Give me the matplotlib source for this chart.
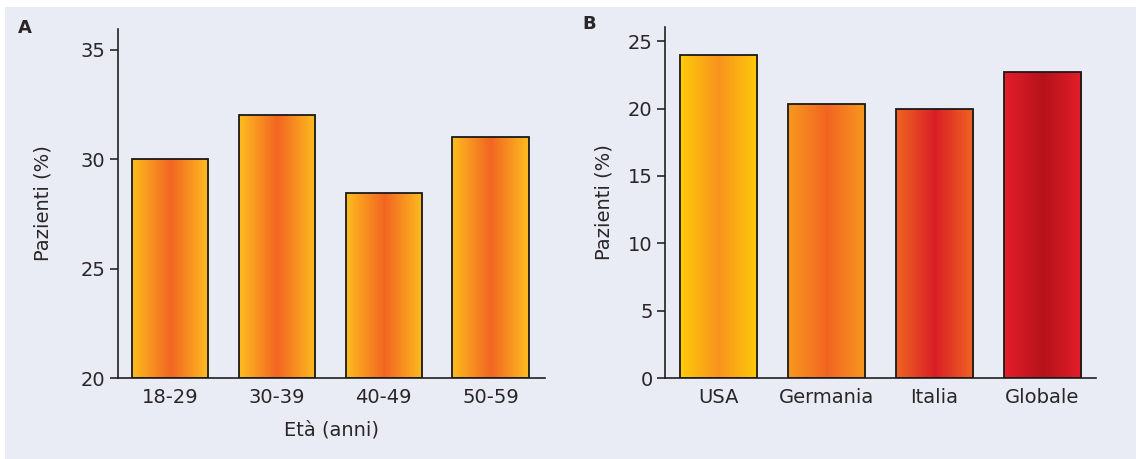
import numpy as np
import matplotlib
matplotlib.use("Agg")
import matplotlib.pyplot as plt
from matplotlib.colors import to_rgb
from matplotlib.patches import Rectangle

# Data
age_groups = ["18-29", "30-39", "40-49", "50-59"]
age_values = [30.0, 32.0, 28.45, 31.0]
countries = ["USA", "Germania", "Italia", "Globale"]
country_values = [24.0, 20.3, 20.0, 22.7]

# gradient colours (edge, centre) per bar
age_grad = [("#FDBD1F", "#F26522")] * 4
country_grad = [("#FFCB08", "#F7931E"), ("#F7981F", "#F26522"),
                ("#F06523", "#D91F26"), ("#E41E2A", "#B5121B")]

BG = "#E9ECF4"
TEXT = "#2a2627"
FS = 14

plt.rcParams['font.family'] = ['DejaVu Sans']

fig = plt.figure(figsize=(11.36, 4.59), dpi=100, facecolor="white")
W, H = 1136, 459
fig.patches.append(Rectangle((5 / W, 0), 1 - 5 / W, 1 - 7 / H, transform=fig.transFigure,
                             facecolor=BG, edgecolor="none", zorder=-10))


def px_axes(left, right, top, bottom):
    return fig.add_axes([left / W, 1 - bottom / H, (right - left) / W, (bottom - top) / H])


def gradient_bars(ax, values, grads, bottom_val):
    bars = ax.bar(range(len(values)), [v - bottom_val for v in values], bottom=bottom_val,
                  width=0.715, facecolor="none", edgecolor="#1a1a1a", linewidth=1.3, zorder=3)
    xs = np.linspace(0, 1, 256)
    prof = 1 - np.abs(xs - 0.5) * 2  # 0 at edges, 1 at centre
    for b, (ec, cc) in zip(bars, grads):
        e = np.array(to_rgb(ec)); c = np.array(to_rgb(cc))
        img = e[None, :] * (1 - prof[:, None]) + c[None, :] * prof[:, None]
        img = img[None, :, :]
        x0, y0 = b.get_x(), b.get_y()
        im = ax.imshow(img, extent=[x0, x0 + b.get_width(), y0, y0 + b.get_height()],
                       aspect="auto", zorder=2, interpolation="bilinear")
        im.set_clip_path(b)
    return bars


def style(ax):
    ax.set_facecolor("none")
    for s in ["top", "right"]:
        ax.spines[s].set_visible(False)
    for s in ["left", "bottom"]:
        ax.spines[s].set_color("#231F20")
        ax.spines[s].set_linewidth(1.2)
    ax.tick_params(axis="both", colors=TEXT, labelsize=FS, length=6, width=1.2)
    ax.tick_params(axis="x", length=0, pad=7)
    ax.tick_params(axis="y", pad=3)


# Panel A
axA = px_axes(118, 545, 29, 378)
gradient_bars(axA, age_values, age_grad, 20)
axA.set_ylim(20, 35.95)
axA.set_xlim(-0.49, 3.51)
axA.set_yticks([20, 25, 30, 35])
axA.set_xticks(range(len(age_groups)))
axA.set_xticklabels(age_groups)
style(axA)
axA.set_ylabel("Pazienti (%)", fontsize=FS, color=TEXT, labelpad=20)
axA.set_xlabel("Età (anni)", fontsize=FS, color=TEXT, labelpad=10)
fig.text(18 / W, 1 - 28 / H, "A", fontsize=13, fontweight="bold", color=TEXT, va="center")

# Panel B
axB = px_axes(665, 1096, 27, 378)
gradient_bars(axB, country_values, country_grad, 0)
axB.set_ylim(0, 26.05)
axB.set_xlim(-0.495, 3.495)
axB.set_yticks([0, 5, 10, 15, 20, 25])
axB.set_xticks(range(len(countries)))
axB.set_xticklabels(countries)
style(axB)
axB.set_ylabel("Pazienti (%)", fontsize=FS, color=TEXT, labelpad=10)
fig.text(582 / W, 1 - 24 / H, "B", fontsize=13, fontweight="bold", color=TEXT, va="center")

fig.savefig("out.png", dpi=100, facecolor="white")
